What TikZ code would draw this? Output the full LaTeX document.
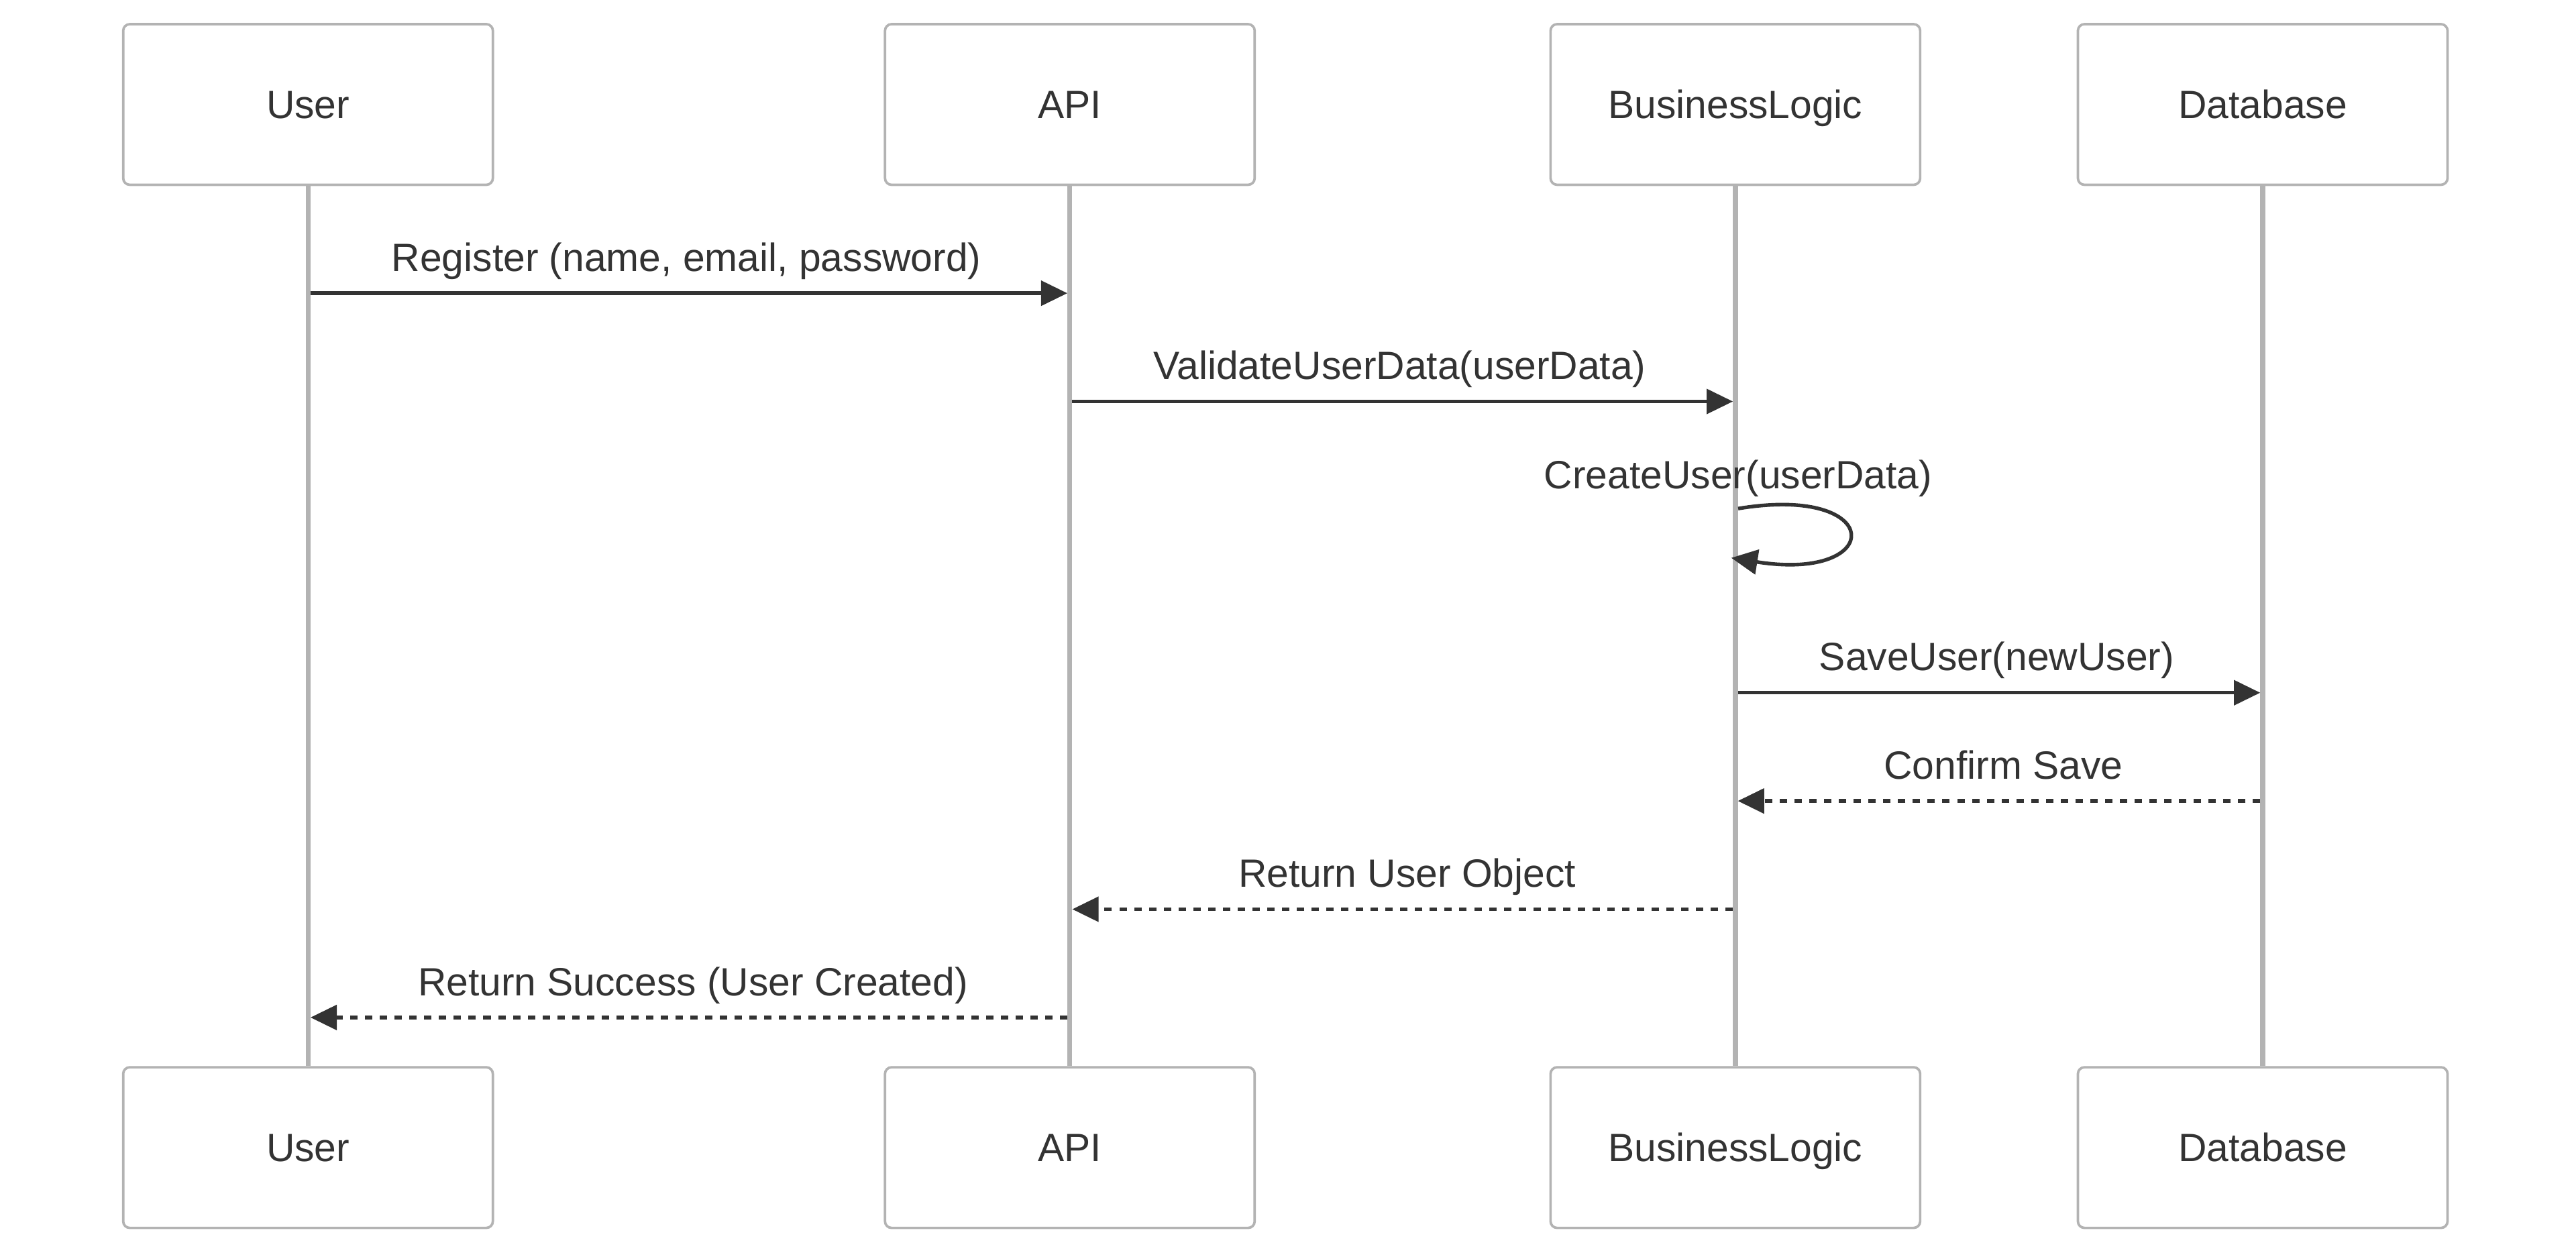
\documentclass[tikz,border=0pt]{standalone}
\usepackage{fontspec}
\setmainfont{Liberation Sans}
\usetikzlibrary{arrows.meta,calc}
\definecolor{ink}{HTML}{333333}
\definecolor{life}{HTML}{B3B3B3}
\begin{document}
\begin{tikzpicture}[x=1pt,y=-1pt,
  actorbox/.style={draw=life, line width=1.5pt, fill=white, rounded corners=4pt,
    minimum width=225pt, minimum height=97.8pt, inner sep=0pt, text=ink,
    text height=17.2pt, text depth=0pt, font=\fontsize{24}{28}\selectfont},
  lifeline/.style={draw=life, line width=3pt},
  msg/.style={draw=ink, line width=2.2pt, -{Triangle[length=16pt,width=15pt]}},
  reply/.style={msg, dash pattern=on 4.5pt off 4.5pt},
  lbl/.style={text=ink, inner sep=0pt, anchor=base, font=\fontsize{24}{28}\selectfont}]
\fill[white] (0,0) rectangle (1568,765.2);
\useasboundingbox (0,0) rectangle (1568,765.2);
% actors
\node[actorbox] (uT) at (187.5,63.6) {User};
\node[actorbox] (aT) at (651.2,63.6) {API};
\node[actorbox] (bT) at (1056.3,63.6) {BusinessLogic};
\node[actorbox] (dT) at (1377.3,63.6) {Database};
\node[actorbox] (uB) at (187.5,698.6) {User};
\node[actorbox] (aB) at (651.2,698.6) {API};
\node[actorbox] (bB) at (1056.3,698.6) {BusinessLogic};
\node[actorbox] (dB) at (1377.3,698.6) {Database};
% lifelines
\draw[lifeline] (uT.south) -- (uB.north);
\draw[lifeline] (aT.south) -- (aB.north);
\draw[lifeline] (bT.south) -- (bB.north);
\draw[lifeline] (dT.south) -- (dB.north);
% message rows
\coordinate (y1) at (0,178.5);
\coordinate (y2) at (0,244.4);
\coordinate (y3) at (0,309.6);
\coordinate (y3e) at (0,339.6);
\coordinate (y4) at (0,421.7);
\coordinate (y5) at (0,487.6);
\coordinate (y6) at (0,553.5);
\coordinate (y7) at (0,619.4);
% messages
\draw[msg] ($(uT.south|-y1)+(1.5,0)$) -- ($(aT.south|-y1)+(-1.5,0)$);
\node[lbl] (l1) at (417.8,165.1) {Register (name, email, password)};
\draw[msg] ($(aT.south|-y2)+(1.5,0)$) -- ($(bT.south|-y2)+(-1.5,0)$);
\node[lbl] (l2) at (852.0,231.0) {ValidateUserData(userData)};
\coordinate (ls) at ($(bT.south|-y3)+(1.7,0)$);
\coordinate (le) at ($(bT.south|-y3e)+(-2.5,0)$);
\draw[msg] (ls) .. controls ($(ls)+(90,-15)$) and ($(ls)+(90,45)$) .. (le);
\node[lbl] (l3) at (1058,297.4) {CreateUser(userData)};
\draw[msg] ($(bT.south|-y4)+(1.5,0)$) -- ($(dT.south|-y4)+(-1.5,0)$);
\node[lbl] (l4) at (1215.4,408.3) {SaveUser(newUser)};
\draw[reply] ($(dT.south|-y5)+(-1.5,0)$) -- ($(bT.south|-y5)+(1.5,0)$);
\node[lbl] (l5) at (1219.5,474.2) {Confirm Save};
\draw[reply] ($(bT.south|-y6)+(-1.5,0)$) -- ($(aT.south|-y6)+(1.5,0)$);
\node[lbl] (l6) at (856.5,540.1) {Return User Object};
\draw[reply] ($(aT.south|-y7)+(-1.5,0)$) -- ($(uT.south|-y7)+(1.5,0)$);
\node[lbl] (l7) at (421.8,606.0) {Return Success (User Created)};
\end{tikzpicture}
\end{document}
